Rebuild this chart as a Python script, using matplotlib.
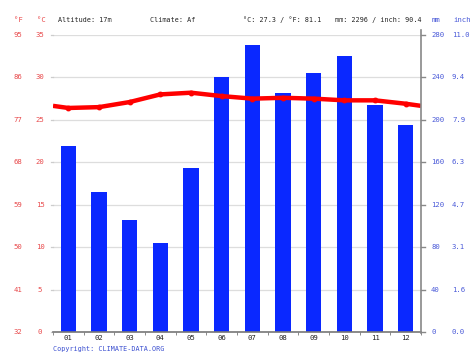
import matplotlib
matplotlib.use("Agg")
import matplotlib.pyplot as plt
import numpy as np

months = ["01", "02", "03", "04", "05", "06", "07", "08", "09", "10", "11", "12"]
precip_mm = [175, 132, 106, 84, 155, 240, 271, 225, 244, 260, 214, 195]
temp_c = [26.4, 26.5, 27.1, 28.0, 28.2, 27.8, 27.5, 27.6, 27.5, 27.3, 27.3, 26.9]
c_ticks = [0, 5, 10, 15, 20, 25, 30, 35]
f_labels = ["32", "41", "50", "59", "68", "77", "86", "95"]
mm_ticks = [0, 40, 80, 120, 160, 200, 240, 280]
inch_labels = ["0.0", "1.6", "3.1", "4.7", "6.3", "7.9", "9.4", "11.0"]
header = ["Altitude: 17m", "Climate: Af", "°C: 27.3 / °F: 81.1", "mm: 2296 / inch: 90.4"]

RED = "#e8484a"
BLUE = "#4a5ad8"
MONO = "DejaVu Sans Mono"
FS = 4.9
FT = 5.2

W, H = 474, 355
fig = plt.figure(figsize=(W / 100, H / 100), dpi=100)
L, R, T, B = 53, 421, 35, 332
ax = fig.add_axes([L / W, 1 - B / H, (R - L) / W, (B - T) / H])
ax2 = ax.twinx()

x = np.arange(1, 13)
ax2.bar(x, precip_mm, width=0.5, color="#0a28ff", zorder=2)
ax2.set_ylim(0, 280)
ax.set_ylim(0, 35)
ax.set_xlim(0.5, 12.5)

# temperature line with edge continuation
edge = (temp_c[0] + temp_c[-1]) / 2
xl = np.concatenate([[0.5], x, [12.5]])
yl = np.concatenate([[edge], temp_c, [edge]])
ax.set_zorder(ax2.get_zorder() + 1)
ax.patch.set_visible(False)
ax.plot(xl, yl, color="#ff0000", lw=3.2, zorder=5, solid_capstyle="butt")
ax.plot(x, temp_c, "o", color="#ff0000", ms=3.2, zorder=6)

# grid
for c in c_ticks:
    ax2.axhline(c * 8, color="#dddddd", lw=0.9, zorder=0)

for a in (ax, ax2):
    for s in a.spines.values():
        s.set_visible(False)
ax.set_yticks([])
ax2.set_yticks([])

# bottom axis
ax.plot([0.5, 12.5], [0, 0], color="#777777", lw=1.2, clip_on=False, zorder=7)
ax.set_xticks(np.arange(0.5, 13, 1), minor=True)
ax.set_xticks(x)
ax.set_xticklabels(months, fontfamily=MONO, fontsize=FT, color="#222222")
ax.tick_params(axis="x", which="major", length=0, pad=2.5)
ax.tick_params(axis="x", which="minor", length=2, color="#777777", direction="out")

# right axis line
ax.plot([12.5, 12.5], [-0.1, 35.6], color="#888888", lw=1.2, clip_on=False, zorder=7)
trans = ax2.get_yaxis_transform()
for m, il in zip(mm_ticks, inch_labels):
    yy = 1 - (B - m * (B - T) / 280) / H
    ax2.plot([1.0, 1.012], [m, m], color="#888888", lw=1, transform=trans, clip_on=False)
    fig.text(431 / W, yy, str(m), fontfamily=MONO, fontsize=FT, color=BLUE, va="center", ha="left")
    fig.text(452 / W, yy, il, fontfamily=MONO, fontsize=FT, color=BLUE, va="center", ha="left")

for c, fl in zip(c_ticks, f_labels):
    yy = 1 - (B - c * (B - T) / 35) / H
    fig.text(18 / W, yy, fl, fontfamily=MONO, fontsize=FT, color=RED, va="center", ha="center")
    fig.text(40 / W, yy, str(c), fontfamily=MONO, fontsize=FT, color=RED, va="center", ha="center")
    ax.plot([0.5 - 0.08, 0.5], [c, c], color="#cccccc", lw=0.9, clip_on=False)

hy = 1 - 20 / H
fig.text(18 / W, hy, "°F", fontfamily=MONO, fontsize=FT, color=RED, va="center", ha="center")
fig.text(41 / W, hy, "°C", fontfamily=MONO, fontsize=FT, color=RED, va="center", ha="center")
for px, t in zip([58, 150, 243, 335], header):
    fig.text(px / W, hy, t, fontfamily=MONO, fontsize=FS, color="#222222", va="center", ha="left")
fig.text(432 / W, hy, "mm", fontfamily=MONO, fontsize=FT, color=BLUE, va="center", ha="left")
fig.text(453 / W, hy, "inch", fontfamily=MONO, fontsize=FT, color=BLUE, va="center", ha="left")

fig.text(53 / W, 1 - 349 / H, "Copyright: CLIMATE-DATA.ORG", fontfamily=MONO,
         fontsize=FS, color="#3a4ed0", va="center", ha="left")

fig.savefig("out.png", dpi=100)
